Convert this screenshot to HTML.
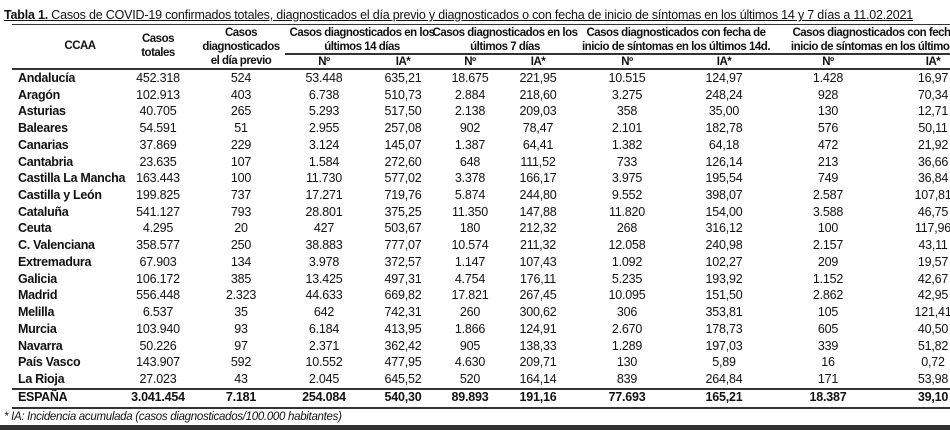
<!DOCTYPE html>
<html><head><meta charset="utf-8"><style>
body{margin:0;width:950px;height:430px;background:#fff;overflow:hidden;font-family:"Liberation Sans",sans-serif;color:#111;position:relative}
.t{position:absolute;white-space:nowrap;font-size:12.5px;transform:translateX(-50%);letter-spacing:-0.2px}
.l{position:absolute;white-space:nowrap;font-size:12.5px;font-weight:bold;letter-spacing:-0.3px}
.h{position:absolute;white-space:nowrap;font-size:11.5px;font-weight:bold;text-align:center;transform:translateX(-50%);line-height:14px;letter-spacing:-0.5px}
.rule{position:absolute;background:#333}
</style></head><body>
<div class="l" style="left:4px;top:8px;font-weight:normal;font-size:12.5px;letter-spacing:-0.2px;text-decoration:underline"><b>Tabla 1.</b> Casos de COVID-19 confirmados totales, diagnosticados el día previo y diagnosticados o con fecha de inicio de síntomas en los últimos 14 y 7 días a 11.02.2021</div>
<div class="rule" style="left:12px;top:24px;width:938px;height:1px"></div>
<div class="h" style="left:80px;top:39px">CCAA</div>
<div class="h" style="left:158px;top:32px">Casos<br>totales</div>
<div class="h" style="left:241px;top:26px">Casos<br>diagnosticados<br>el día previo</div>
<div class="h" style="left:362px;top:26px">Casos diagnosticados en los<br>últimos 14 días</div>
<div class="h" style="left:505px;top:26px">Casos diagnosticados en los<br>últimos 7 días</div>
<div class="h" style="left:676px;top:26px">Casos diagnosticados con fecha de<br>inicio de síntomas en los últimos 14d.</div>
<div class="h" style="left:882px;top:26px">Casos diagnosticados con fecha de<br>inicio de síntomas en los últimos 7d.</div>
<div class="rule" style="left:285px;top:53px;width:665px;height:2px"></div>
<div class="rule" style="left:12px;top:68px;width:938px;height:2px"></div>
<div class="rule" style="left:12px;top:388px;width:938px;height:2px"></div>
<div class="rule" style="left:12px;top:407px;width:938px;height:2px"></div>
<div class="l" style="left:4px;top:411px;font-weight:normal;font-style:italic;font-size:11.5px">* IA: Incidencia acumulada (casos diagnosticados/100.000 habitantes)</div>
<div style="position:absolute;left:0;top:425px;width:950px;height:5px;background:#333"></div>
<div id="body"></div>
<script>
const sub=["Nº","IA*","Nº","IA*","Nº","IA*","Nº","IA*"];
const regions=["Andalucía","Aragón","Asturias","Baleares","Canarias","Cantabria","Castilla La Mancha","Castilla y León","Cataluña","Ceuta","C. Valenciana","Extremadura","Galicia","Madrid","Melilla","Murcia","Navarra","País Vasco","La Rioja","ESPAÑA"];
const values=[
["452.318","524","53.448","635,21","18.675","221,95","10.515","124,97","1.428","16,97"],
["102.913","403","6.738","510,73","2.884","218,60","3.275","248,24","928","70,34"],
["40.705","265","5.293","517,50","2.138","209,03","358","35,00","130","12,71"],
["54.591","51","2.955","257,08","902","78,47","2.101","182,78","576","50,11"],
["37.869","229","3.124","145,07","1.387","64,41","1.382","64,18","472","21,92"],
["23.635","107","1.584","272,60","648","111,52","733","126,14","213","36,66"],
["163.443","100","11.730","577,02","3.378","166,17","3.975","195,54","749","36,84"],
["199.825","737","17.271","719,76","5.874","244,80","9.552","398,07","2.587","107,81"],
["541.127","793","28.801","375,25","11.350","147,88","11.820","154,00","3.588","46,75"],
["4.295","20","427","503,67","180","212,32","268","316,12","100","117,96"],
["358.577","250","38.883","777,07","10.574","211,32","12.058","240,98","2.157","43,11"],
["67.903","134","3.978","372,57","1.147","107,43","1.092","102,27","209","19,57"],
["106.172","385","13.425","497,31","4.754","176,11","5.235","193,92","1.152","42,67"],
["556.448","2.323","44.633","669,82","17.821","267,45","10.095","151,50","2.862","42,95"],
["6.537","35","642","742,31","260","300,62","306","353,81","105","121,41"],
["103.940","93","6.184","413,95","1.866","124,91","2.670","178,73","605","40,50"],
["50.226","97","2.371","362,42","905","138,33","1.289","197,03","339","51,82"],
["143.907","592","10.552","477,95","4.630","209,71","130","5,89","16","0,72"],
["27.023","43","2.045","645,52","520","164,14","839","264,84","171","53,98"],
["3.041.454","7.181","254.084","540,30","89.893","191,16","77.693","165,21","18.387","39,10"]];
const cx=[158,241,324,403,470,538,627,724,828,933];
const body=document.getElementById('body');
sub.forEach((s,i)=>{const d=document.createElement('div');d.className='h';d.style.left=cx[i+2]+'px';d.style.top='55px';d.textContent=s;


body.appendChild(d);});
regions.forEach((r,i)=>{
 const y=i<19?71+i*16.72:390;
 const n=document.createElement('div');n.className='l';n.style.left='18px';n.style.top=y+'px';n.textContent=r;
 
 
 body.appendChild(n);
 values[i].forEach((v,j)=>{const c=document.createElement('div');c.className='t';c.style.left=cx[j]+'px';c.style.top=y+'px';c.textContent=v;if(i==19)c.style.fontWeight='bold';
 
 
 body.appendChild(c);});
});
</script>
</body></html>
